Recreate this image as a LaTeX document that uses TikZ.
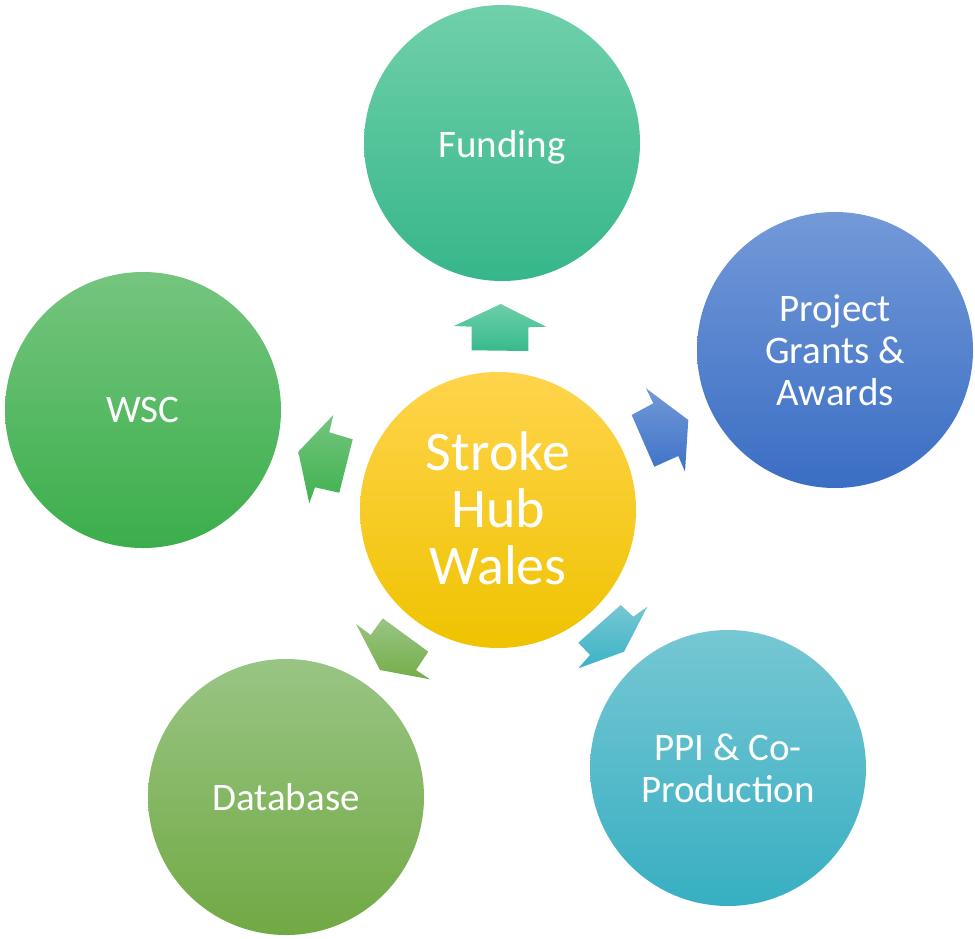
\documentclass[tikz,border=0pt]{standalone}
\usepackage{fontspec}
\setmainfont{Carlito}
\definecolor{fundT}{HTML}{70D0AA}\definecolor{fundM}{HTML}{45C799}\definecolor{fundB}{HTML}{36B68A}
\definecolor{projT}{HTML}{7399D8}\definecolor{projM}{HTML}{4C80D1}\definecolor{projB}{HTML}{3A6EC4}
\definecolor{ppiT}{HTML}{76C7D3}\definecolor{ppiM}{HTML}{4BBFD0}\definecolor{ppiB}{HTML}{37AFC2}
\definecolor{dbT}{HTML}{99C584}\definecolor{dbM}{HTML}{85BC5F}\definecolor{dbB}{HTML}{71A943}
\definecolor{wscT}{HTML}{75C57F}\definecolor{wscM}{HTML}{4FBE5E}\definecolor{wscB}{HTML}{3BAE4B}
\definecolor{hubT}{HTML}{FFD44C}\definecolor{hubM}{HTML}{FDCD00}\definecolor{hubB}{HTML}{EFC300}
\begin{document}
\begin{tikzpicture}[x=1pt,y=-1pt,
  disc/.style={circle, minimum size=276pt, inner sep=0pt, text=white, align=center,
    font=\fontsize{39}{42}\selectfont},
  hubdisc/.style={disc, font=\fontsize{56}{57}\selectfont},
  fundfill/.style={top color=fundT, middle color=fundM, bottom color=fundB},
  projfill/.style={top color=projT, middle color=projM, bottom color=projB},
  ppifill/.style={top color=ppiT, middle color=ppiM, bottom color=ppiB},
  dbfill/.style={top color=dbT, middle color=dbM, bottom color=dbB},
  wscfill/.style={top color=wscT, middle color=wscM, bottom color=wscB},
  hubfill/.style={top color=hubT, middle color=hubM, bottom color=hubB},
  blockarrow/.style={draw=none}]
\useasboundingbox (0,0) rectangle (975,938);

% circles
\node[hubdisc, hubfill] (hub) at (498,510) {};
\node[text=white, align=center, font=\fontsize{56}{57}\selectfont] (hubtext) at ([yshift=2pt]hub.center) {Stroke\\Hub\\Wales};
\node[disc, fundfill] (fund) at (502,143) {};
\node[text=white, font=\fontsize{39}{42}\selectfont] (fundtext) at ([yshift=-4pt]fund.center) {Funding};
\node[disc, projfill] (proj) at (835,350) {Project\\Grants \&\\Awards};
\node[disc, ppifill] (ppi) at (728,768) {PPI \& Co-\\Production};
\node[disc, dbfill] (db) at (286,797) {Database};
\node[disc, wscfill] (wsc) at (143,410) {WSC};

% block arrows (hub -> outer circles)
\shade[blockarrow, top color=fundT!90!fundM, bottom color=fundB!80!fundM]
  (500.7,304) -- (546,326.7) -- (528.3,327.3) -- (528.3,351) -- (471.7,350.3) -- (471.7,326.7) -- (454,326) -- cycle;
\shade[blockarrow, top color=projT, bottom color=projB!80!projM]
  (688.3,420) -- (646,388.3) -- (653.3,403.3) -- (631.7,415) -- (654.3,466.7) -- (678.3,456) -- (685,471.7) -- cycle;
\shade[blockarrow, top color=ppiT, bottom color=ppiB!80!ppiM]
  (624,651.7) -- (647.3,606.7) -- (633.3,616.7) -- (620.7,605) -- (578.3,642.7) -- (590,655) -- (578.3,668.3) -- cycle;
\shade[blockarrow, top color=dbT, bottom color=dbB!80!dbM]
  (380,670) -- (356,624) -- (370.7,635) -- (382.7,618.3) -- (428.3,651.7) -- (416,670) -- (430,679.3) -- cycle;
\shade[blockarrow, top color=wscT, bottom color=wscB!80!wscM]
  (298.3,451.7) -- (333.3,415) -- (329.3,432.3) -- (352.7,439.3) -- (339.3,492.7) -- (315,487.3) -- (309.3,503.3) -- cycle;
\end{tikzpicture}
\end{document}
